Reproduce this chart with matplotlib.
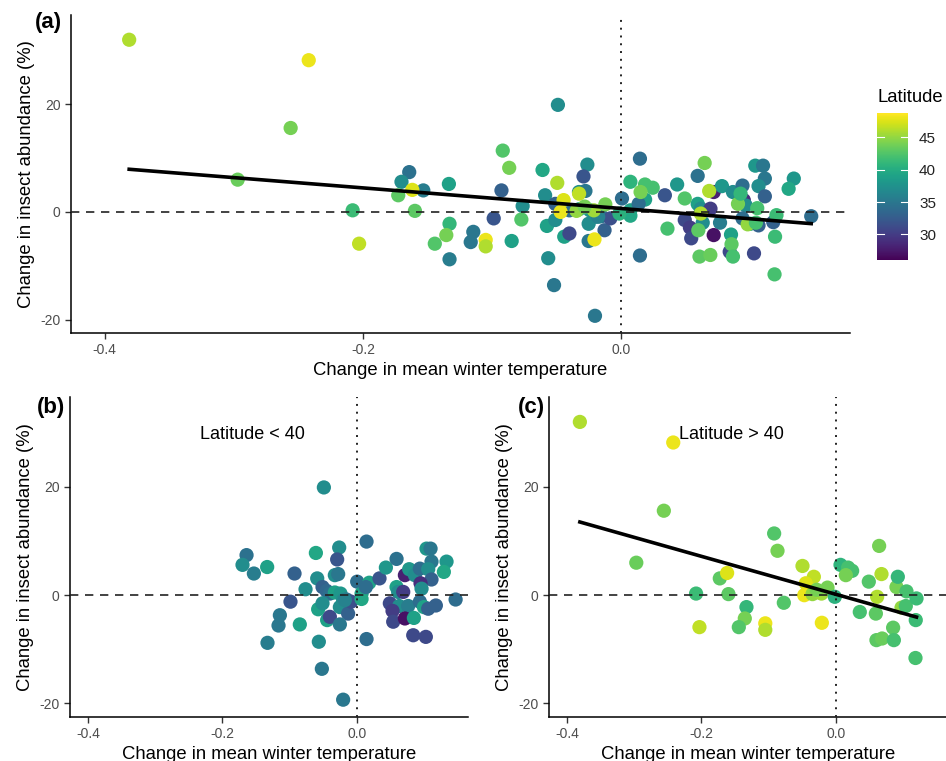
import numpy as np
import matplotlib
matplotlib.use("Agg")
import matplotlib.pyplot as plt
from matplotlib.colors import Normalize

plt.rcParams["font.family"] = ["Liberation Sans", "DejaVu Sans"]
plt.rcParams["axes.unicode_minus"] = False

# sites with latitude < 40 (temperature change, abundance change, latitude)
low_temp = [-0.1642, -0.1702, -0.1533, -0.1335, -0.0928, -0.0988, -0.1146, -0.1166, -0.1330, -0.0849,
            -0.0764, -0.0610, -0.0590, -0.0576, -0.0566, -0.0521, -0.0491, -0.0511, -0.0451, -0.0402,
            -0.0442, -0.0402, -0.0511, -0.0263, -0.0293, -0.0328, -0.0278, -0.0328, -0.0243, -0.0204,
            -0.0154, -0.0253, -0.0130, -0.0253, -0.0204, -0.0085, 0.0005, 0.0070, 0.0070, 0.0144,
            0.0144, 0.0184, 0.0337, 0.0134, 0.0432, 0.0591, 0.0715, 0.0779, 0.0864, 0.0938,
            0.1037, 0.1097, 0.1111, 0.1062, 0.1335, 0.1295, 0.1111, 0.0948, 0.0963, 0.0591,
            0.0615, 0.0690, 0.0491, 0.0630, 0.0764, 0.0938, 0.0998, 0.1062, 0.1176, 0.1470,
            0.0531, 0.0541, 0.0715, 0.0849, 0.0839, 0.1027, -0.0179]
low_abund = [7.4, 5.6, 4.0, 5.2, 4.0, -1.2, -3.7, -5.6, -8.8, -5.4,
             1.1, 7.8, 3.1, -2.6, -8.6, -13.6, 19.9, 1.5, 0.8, 0.3,
             -4.6, -4.0, -1.5, 8.8, 6.6, 3.7, 3.9, 0.5, 0.3, -0.9,
             -0.8, -2.2, -3.4, -5.4, -19.3, -1.2, 2.5, 0.3, -0.7, 9.9,
             -8.1, 2.3, 3.1, 1.5, 5.1, 6.7, 3.7, 4.8, 3.7, 4.9,
             8.6, 8.6, 6.2, 4.8, 6.2, 4.3, 2.9, 2.2, 1.2, 1.5,
             0.6, 0.6, -1.5, -2.0, -2.0, -1.2, -2.2, -2.5, -1.9, -0.8,
             -2.9, -4.9, -4.3, -4.2, -7.4, -7.7, -0.9]
low_lat = [34.5, 37, 35.5, 39, 33, 32, 35, 35, 35.5, 39,
           37, 39.5, 37, 39, 37, 35, 37, 33, 33.5, 34,
           39, 31, 37, 37, 32, 37, 35, 39, 38, 37,
           34, 37, 33, 35, 35, 31.5, 34, 39, 39.5, 34,
           34, 39, 32, 34, 38, 34.5, 28, 38, 37, 34,
           38, 35, 35, 37, 38, 39.5, 33, 29, 37, 39,
           37, 30, 31, 37, 35.5, 34, 39, 33, 33, 34,
           30, 31, 27, 39, 31, 31, 36]

# sites with latitude > 40
high_temp = [-0.381, -0.242, -0.256, -0.297, -0.208, -0.203, -0.1727, -0.1618, -0.1598, -0.133,
             -0.1355, -0.1444, -0.105, -0.105, -0.0918, -0.0868, -0.0774, -0.0496, -0.0327, -0.0447,
             -0.047, -0.0347, -0.0213, -0.0124, -0.0208, -0.0015, 0.007, 0.0183, 0.0243, 0.0149,
             0.0357, 0.0491, 0.0645, 0.068, 0.0615, 0.0596, 0.0605, 0.0689, 0.0853, 0.0864,
             0.0903, 0.0923, 0.1052, 0.0978, 0.1042, 0.1201, 0.119, 0.1186, -0.0284]
high_abund = [32.0, 28.2, 15.6, 6.0, 0.3, -5.9, 3.1, 4.1, 0.2, -2.2,
              -4.3, -5.9, -5.2, -6.4, 11.4, 8.2, -1.4, 5.4, 3.4, 2.2,
              0.0, 0.2, 0.3, 1.4, -5.1, -0.3, 5.6, 5.1, 4.5, 3.7,
              -3.1, 2.5, 9.1, 3.9, -0.3, -3.4, -8.3, -8.0, -6.0, -8.3,
              1.5, 3.4, 0.7, -2.3, -2.0, -0.6, -4.6, -11.6, 1.0]
high_lat = [46, 48, 44, 43.5, 41.5, 46.5, 43, 47.5, 43, 41,
            44, 42.5, 48, 46, 42.5, 44, 42.5, 46, 46.5, 47.5,
            48, 45, 45.5, 44, 48, 40.5, 40.8, 42, 42, 44,
            42, 42.5, 44, 46, 46, 43, 43, 43.5, 43, 42,
            44, 41, 42, 45, 42, 41.5, 41.5, 42, 44]

all_temp = low_temp + high_temp
all_abund = low_abund + high_abund
all_lat = low_lat + high_lat

norm = Normalize(vmin=26, vmax=48.7)
cmap = plt.get_cmap("viridis")

fig = plt.figure(figsize=(9.46, 7.61), dpi=100)
ax_a = fig.add_axes([0.0751, 0.5624, 0.8234, 0.4179])
ax_b = fig.add_axes([0.0740, 0.0578, 0.4204, 0.4205])
ax_c = fig.add_axes([0.5803, 0.0578, 0.4204, 0.4205])
cax = fig.add_axes([0.927, 0.658, 0.0328, 0.193])


def draw_panel(ax, x, y, lat, fit, xlim, note=None):
    ax.scatter(x, y, c=lat, cmap=cmap, norm=norm, s=105, edgecolors="none", zorder=2)
    ax.axhline(0, color="#222222", lw=1.2, ls=(0, (5, 4)), zorder=3)
    ax.axvline(0, color="#222222", lw=1.4, ls=(0, (1, 3)), zorder=3)
    if fit:
        k, b = np.polyfit(x, y, 1)
        xs = np.array([min(x), max(x)])
        ax.plot(xs, k * xs + b, color="black", lw=2.6, zorder=4)
    ax.set_xlim(*xlim)
    ax.set_ylim(-22.5, 36.6)
    ax.set_xticks([-0.4, -0.2, 0.0])
    ax.set_xticklabels(["-0.4", "-0.2", "0.0"])
    ax.set_yticks([-20, 0, 20])
    ax.set_yticklabels(["-20", "0", "20"])
    for s in ["top", "right"]:
        ax.spines[s].set_visible(False)
    for s in ["left", "bottom"]:
        ax.spines[s].set_linewidth(1.1)
    ax.tick_params(labelsize=10, labelcolor="#4D4D4D", length=4, width=1, color="#333333")
    ax.set_xlabel("Change in mean winter temperature", fontsize=13.3, labelpad=3)
    ax.set_ylabel("Change in insect abundance (%)", fontsize=13.3, labelpad=4)
    if note:
        ax.text(-0.155, 29.6, note, fontsize=13, ha="center", va="center")


draw_panel(ax_a, all_temp, all_abund, all_lat, True, (-0.426, 0.177))
draw_panel(ax_b, low_temp, low_abund, low_lat, False, (-0.427, 0.165), "Latitude < 40")
draw_panel(ax_c, high_temp, high_abund, high_lat, True, (-0.427, 0.165), "Latitude > 40")

fig.text(0.0655, 0.971, "(a)", fontsize=16, fontweight="bold", ha="right", va="center")
fig.text(0.0690, 0.464, "(b)", fontsize=16, fontweight="bold", ha="right", va="center")
fig.text(0.5765, 0.464, "(c)", fontsize=16, fontweight="bold", ha="right", va="center")

sm = plt.cm.ScalarMappable(norm=norm, cmap=cmap)
cb = fig.colorbar(sm, cax=cax, ticks=[30, 35, 40, 45])
cb.outline.set_visible(False)
cb.ax.tick_params(length=0, labelsize=11, labelcolor="#222222", pad=8)
for t in [30, 35, 40, 45]:
    cax.plot([0, 0.22], [t, t], color="white", lw=0.8, transform=cax.get_yaxis_transform())
    cax.plot([0.78, 1], [t, t], color="white", lw=0.8, transform=cax.get_yaxis_transform())
fig.text(0.928, 0.872, "Latitude", fontsize=13.3, ha="left", va="center")

fig.savefig("out.png", dpi=100)
